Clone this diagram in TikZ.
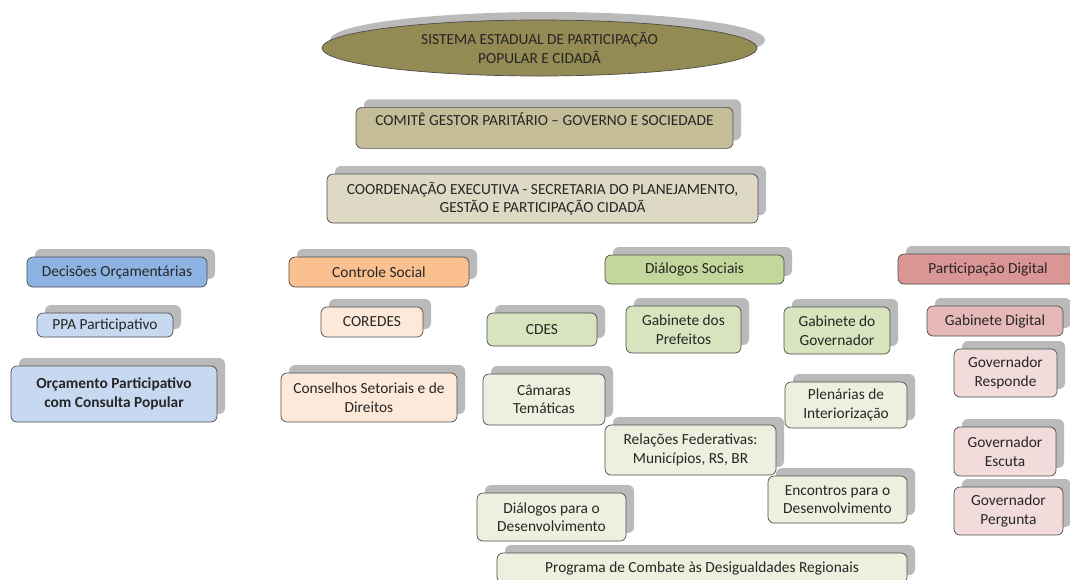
\documentclass[tikz,border=0pt]{standalone}
\usepackage{fontspec}
\setmainfont{Carlito}
\usepackage{tikz}
\usetikzlibrary{shadows}
\usetikzlibrary{shapes}

\definecolor{oliva}{HTML}{948A54}
\definecolor{comite}{HTML}{C4BD97}
\definecolor{coord}{HTML}{DDD9C4}
\definecolor{azulA}{HTML}{8DB3E2}
\definecolor{azulB}{HTML}{C6D9F1}
\definecolor{laranjaA}{HTML}{FAC090}
\definecolor{laranjaB}{HTML}{FDE9D9}
\definecolor{verdeA}{HTML}{C3D69B}
\definecolor{verdeB}{HTML}{D7E4BD}
\definecolor{verdeC}{HTML}{EBF1DE}
\definecolor{rosaA}{HTML}{D99694}
\definecolor{rosaB}{HTML}{E6B9B8}
\definecolor{rosaC}{HTML}{F2DCDB}

\tikzset{
  caixa/.style={draw=black!70, line width=0.7pt, rounded corners=6pt, align=center,
    inner sep=0pt, text=black!85, font=\fontsize{15.4}{18.5}\selectfont,
    general shadow={fill=black!27, shadow xshift=8pt, shadow yshift=8pt}},
}

\begin{document}
\begin{tikzpicture}[x=1pt,y=-1pt]
  \clip (0,0) rectangle (1070,579);

	%topo
  \node[caixa, ellipse, fill=oliva, minimum width=435, minimum height=56] (sistema) at (539.5,48)
      {SISTEMA ESTADUAL DE PARTICIPAÇÃO\\POPULAR E CIDADÃ};
  \node[caixa, fill=comite, minimum width=377, text height=18pt, text depth=23pt, anchor=north] (comite) at (544.5,107)
      {COMITÊ GESTOR PARITÁRIO -- GOVERNO E SOCIEDADE};
  \node[caixa, fill=coord, minimum width=431, minimum height=49] (coord) at (542.5,198.5)
      {COORDENAÇÃO EXECUTIVA - SECRETARIA DO PLANEJAMENTO,\\GESTÃO E PARTICIPAÇÃO CIDADÃ};

	%decisoes orcamentarias
    \foreach \x/\y/\w/\h/\nome/\cor/\txt in {117/272/180/30/dec/azulA/{Decisões Orçamentárias},105/325/136/24/ppa/azulB/{PPA Participativo}}{
         \node[caixa, fill=\cor, minimum width=\w, minimum height=\h] (\nome) at (\x,\y) {\txt};
    }
  \node[caixa, fill=azulB, minimum width=206, minimum height=56, font=\fontsize{15.4}{18.5}\selectfont\bfseries] (orc) at (114,394)
      {Orçamento Participativo\\com Consulta Popular};

	%controle social
    \foreach \x/\y/\w/\h/\nome/\cor/\txt in {379/272/180/30/ctl/laranjaA/{Controle Social},372/322/102/30/coredes/laranjaB/{COREDES},369/397.5/176/49/cons/laranjaB/{Conselhos Setoriais e de\\Direitos}}{
         \node[caixa, fill=\cor, minimum width=\w, minimum height=\h] (\nome) at (\x,\y) {\txt};
    }

	%dialogos sociais
    \foreach \x/\y/\w/\h/\nome/\cor/\txt in {694.5/269.5/179/29/dso/verdeA/{Diálogos Sociais},542/329.5/110/33/cdes/verdeB/{CDES},683.5/329.5/115/47/gpref/verdeB/{Gabinete dos\\Prefeitos},837/330.5/106/47/ggov/verdeB/{Gabinete do\\Governador}}{
         \node[caixa, fill=\cor, minimum width=\w, minimum height=\h] (\nome) at (\x,\y) {\txt};
    }
    \foreach \x/\y/\w/\h/\nome/\txt in {544/399.5/122/51/cam/{Câmaras\\Temáticas},846/405/122/46/plen/{Plenárias de\\Interiorização},690.5/450/171/50/rel/{Relações Federativas:\\Municípios, RS, BR},837.5/499.5/139/47/enc/{Encontros para o\\Desenvolvimento},551.5/517/149/48/dpd/{Diálogos para o\\Desenvolvimento},702/568/410/30/prog/{Programa de Combate às Desigualdades Regionais}}{
         \node[caixa, fill=verdeC, minimum width=\w, minimum height=\h] (\nome) at (\x,\y) {\txt};
    }

	%participacao digital
    \foreach \x/\y/\w/\h/\nome/\cor/\txt in {988/269/180/30/pdig/rosaA/{Participação Digital},995/321/136/30/gdig/rosaB/{Gabinete Digital},1005.5/373/103/48/gresp/rosaC/{Governador\\Responde},1005/451.5/102/49/gesc/rosaC/{Governador\\Escuta},1008.5/511/109/48/gperg/rosaC/{Governador\\Pergunta}}{
         \node[caixa, fill=\cor, minimum width=\w, minimum height=\h] (\nome) at (\x,\y) {\txt};
    }

\end{tikzpicture}
\end{document}
